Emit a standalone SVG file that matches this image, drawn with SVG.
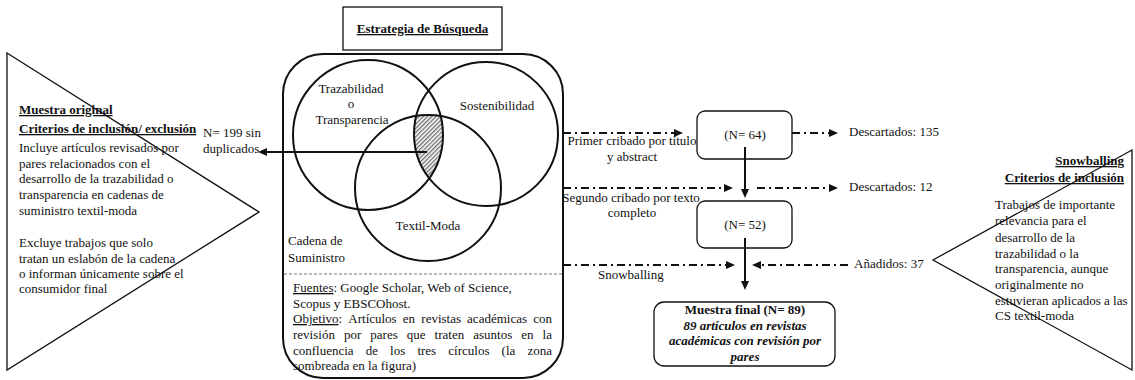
<svg xmlns="http://www.w3.org/2000/svg" width="1135" height="380" viewBox="0 0 1135 380">
<style>
text{font-family:"Liberation Serif","Times New Roman",serif;font-size:13px;fill:#111}
.b{font-weight:bold}
.u{text-decoration:underline}
.bi{font-weight:bold;font-style:italic}
.m{text-anchor:middle}
.e{text-anchor:end}
.thin{fill:none;stroke:#111;stroke-width:1.3}
.thick{fill:none;stroke:#111;stroke-width:2}
.dd{fill:none;stroke:#111;stroke-width:2;stroke-dasharray:8 4 2 4}
.sol{fill:none;stroke:#111;stroke-width:2}
</style>
<defs>
<marker id="ah" markerUnits="userSpaceOnUse" markerWidth="9" markerHeight="8" refX="0" refY="4" orient="auto">
<path d="M0,0 L9,4 L0,8 z" fill="#111"/>
</marker>
<pattern id="hatch" patternUnits="userSpaceOnUse" width="3" height="10" patternTransform="rotate(45)">
<rect width="3" height="10" fill="#fff"/>
<line x1="0.8" y1="0" x2="0.8" y2="10" stroke="#222" stroke-width="0.9"/>
</pattern>
<clipPath id="cA"><circle cx="368" cy="135" r="75"/></clipPath>
<clipPath id="cB"><circle cx="486" cy="134" r="72"/></clipPath>
<clipPath id="cC"><circle cx="428" cy="188" r="73"/></clipPath>
</defs>

<g id="left-criteria">
<polygon class="thin" points="7,53 259,212 7,370"/>
<text x="19" y="114" class="b u">Muestra original</text>
<text x="19" y="133" class="b u">Criterios de inclusión/ exclusión</text>
<text x="19" y="152">Incluye artículos revisados por</text>
<text x="19" y="168">pares relacionados con el</text>
<text x="19" y="183">desarrollo de la trazabilidad o</text>
<text x="19" y="199">transparencia en cadenas de</text>
<text x="19" y="215">suministro textil-moda</text>
<text x="19" y="247">Excluye trabajos que solo</text>
<text x="19" y="263">tratan un eslabón de la cadena</text>
<text x="19" y="278">o informan únicamente sobre el</text>
<text x="19" y="293">consumidor final</text>
</g>

<g id="n199">
<text x="203" y="137">N= 199 sin</text>
<text x="203" y="153">duplicados</text>
</g>

<g id="title">
<rect class="thin" x="343" y="7" width="159" height="43"/>
<text x="422.5" y="33" class="b u m">Estrategia de Búsqueda</text>
</g>

<g id="search">
<rect class="thick" x="283" y="54" width="280" height="324" rx="40"/>
<g clip-path="url(#cA)"><g clip-path="url(#cB)"><g clip-path="url(#cC)">
<rect x="400" y="100" width="60" height="90" fill="url(#hatch)"/>
</g></g></g>
<circle class="thick" cx="368" cy="135" r="75"/>
<circle class="thick" cx="486" cy="134" r="72"/>
<circle class="thick" cx="428" cy="188" r="73"/>
<text x="351" y="93" class="m">Trazabilidad</text>
<text x="351" y="108" class="m">o</text>
<text x="352" y="124" class="m">Transparencia</text>
<text x="497" y="110" class="m">Sostenibilidad</text>
<text x="428" y="230" class="m">Textil-Moda</text>
<text x="288" y="245">Cadena de</text>
<text x="288" y="262">Suministro</text>
<line x1="284" y1="274" x2="562" y2="274" stroke="#777" stroke-width="1" stroke-dasharray="3 2"/>
<text x="293" y="292"><tspan class="u">Fuentes</tspan>: Google Scholar, Web of Science,</text>
<text x="293" y="308">Scopus y EBSCOhost.</text>
<text y="323"><tspan x="293" class="u">Objetivo</tspan><tspan>:</tspan><tspan x="348.3">Artículos</tspan><tspan x="402.8">en</tspan><tspan x="421.3">revistas</tspan><tspan x="467.1">académicas</tspan><tspan x="533.2">con</tspan></text>
<text y="339"><tspan x="293">revisión</tspan><tspan x="343.9">por</tspan><tspan x="370.3">pares</tspan><tspan x="406.7">que</tspan><tspan x="434.6">traten</tspan><tspan x="473.2">asuntos</tspan><tspan x="521.3">en</tspan><tspan x="542.6">la</tspan></text>
<text y="355"><tspan x="293">confluencia</tspan><tspan x="365.7">de</tspan><tspan x="390.1">los</tspan><tspan x="417.4">tres</tspan><tspan x="448.3">círculos</tspan><tspan x="501.6">(la</tspan><tspan x="527.4">zona</tspan></text>
<text x="293" y="370">sombreada en la figura)</text>
</g>

<g id="box64">
<rect class="thin" x="697" y="111" width="95" height="48" rx="8"/>
<text x="745" y="139" class="m">(N= 64)</text>
</g>
<g id="box52">
<rect class="thin" x="697" y="201" width="95" height="47" rx="8"/>
<text x="745" y="229" class="m">(N= 52)</text>
</g>
<g id="final">
<rect class="thin" x="654" y="302" width="181" height="64" rx="10"/>
<text x="745" y="314" class="b m">Muestra final (N= 89)</text>
<text x="745" y="330" class="bi m">89 artículos en revistas</text>
<text x="745" y="345" class="bi m">académicas con revisión por</text>
<text x="745" y="361" class="bi m">pares</text>
</g>

<g id="labels">
<text x="632" y="145" class="m">Primer cribado por título</text>
<text x="632" y="161" class="m">y abstract</text>
<text x="631" y="202" class="m">Segundo cribado por texto</text>
<text x="632" y="217" class="m">completo</text>
<text x="598" y="279">Snowballing</text>
<text x="849" y="136">Descartados: 135</text>
<text x="849" y="191">Descartados: 12</text>
<text x="854" y="268">Añadidos: 37</text>
</g>

<g id="right-criteria">
<polygon class="thin" points="1132,150 933,260 1132,370"/>
<text x="1124" y="165" class="b u e">Snowballing</text>
<text x="1124" y="182" class="b u e">Criterios de inclusión</text>
<text x="995" y="209">Trabajos de importante</text>
<text x="995" y="225">relevancia para el</text>
<text x="995" y="242">desarrollo de la</text>
<text x="995" y="258">trazabilidad o la</text>
<text x="995" y="273">transparencia, aunque</text>
<text x="995" y="289">originalmente no</text>
<text x="995" y="305">estuvieran aplicados a las</text>
<text x="995" y="320">CS textil-moda</text>
</g>

<g id="connectors">
<line class="sol" x1="427" y1="152" x2="267" y2="152" marker-end="url(#ah)"/>
<line class="dd" x1="563" y1="133" x2="674" y2="133" marker-end="url(#ah)"/>
<line class="dd" x1="792" y1="133" x2="829" y2="133" marker-end="url(#ah)"/>
<line class="dd" x1="563" y1="188" x2="724" y2="188" marker-end="url(#ah)"/>
<line class="dd" x1="757" y1="188" x2="829" y2="188" marker-end="url(#ah)"/>
<line class="sol" x1="745" y1="147" x2="745" y2="189" marker-end="url(#ah)"/>
<line class="sol" x1="745" y1="238" x2="745" y2="281" marker-end="url(#ah)"/>
<line class="dd" x1="563" y1="265" x2="726" y2="265" marker-end="url(#ah)"/>
<line class="dd" x1="848" y1="265" x2="761" y2="265" marker-end="url(#ah)"/>
</g>
</svg>
